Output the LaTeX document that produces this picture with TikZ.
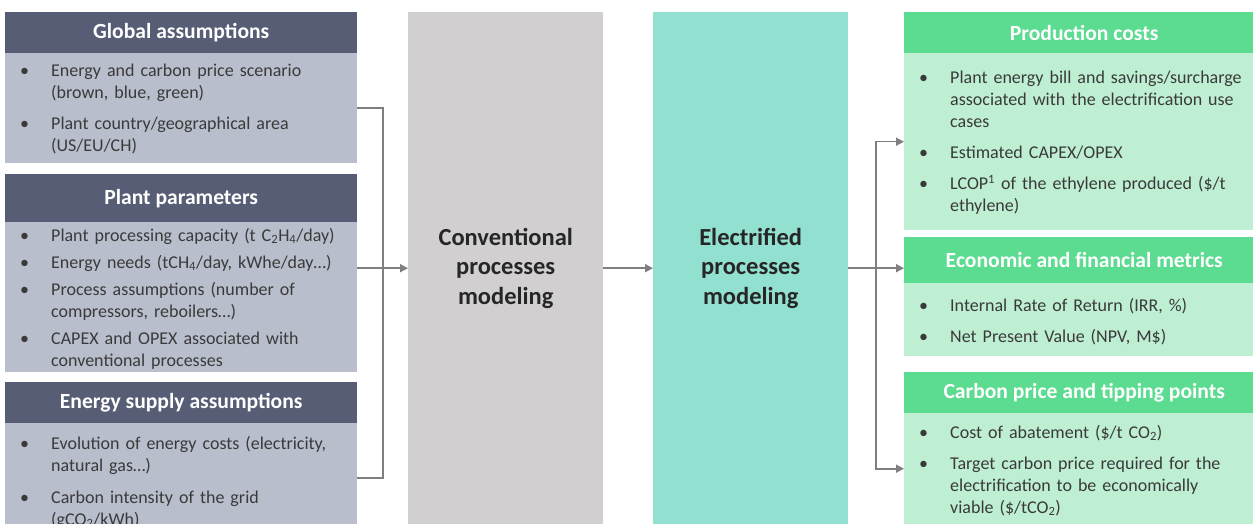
\documentclass[tikz,border=0pt]{standalone}
\usepackage{fontspec}
\setmainfont{Carlito}
\usetikzlibrary{arrows.meta}

\definecolor{slate}{HTML}{565D75}
\definecolor{slatelight}{HTML}{B9BECC}
\definecolor{convgray}{HTML}{D1CFD0}
\definecolor{electeal}{HTML}{92E0D0}
\definecolor{mint}{HTML}{5CDC90}
\definecolor{mintlight}{HTML}{BEEFD2}
\definecolor{wire}{HTML}{7F7F7F}
\definecolor{ink}{HTML}{3A3A3A}

% bullet items with hanging indent; \firstbul starts a list, \bul adds the gap above
\newlength\itemgap
\setlength\itemgap{9pt}
\newcommand{\firstbul}[1]{\hangindent=46pt\hangafter=1\noindent\hbox to 46pt{\hskip15pt\textbullet\hfil}#1\par}
\newcommand{\bul}[1]{\vskip\itemgap\firstbul{#1}}

\tikzset{
  hdr/.style={anchor=north west, inner sep=0pt, text=white,
    font=\fontsize{21.6}{24}\selectfont\bfseries},
  hdrL/.style={hdr, fill=slate, minimum width=352pt},
  hdrR/.style={hdr, fill=mint, minimum width=360pt},
  bodyL/.style={anchor=north west, inner sep=0pt, fill=slatelight, minimum width=352pt},
  bodyR/.style={anchor=north west, inner sep=0pt, fill=mintlight, minimum width=360pt},
  items/.style={anchor=base west, inner sep=0pt, text width=380pt, align=left, text=ink,
    font=\fontsize{18}{22}\selectfont},
  tight/.style={execute at begin node={\setlength\itemgap{5pt}}},
  loose/.style={execute at begin node={\setlength\itemgap{10pt}}},
  stage/.style={anchor=north west, inner sep=0pt, minimum width=195pt, minimum height=512pt,
    align=center, text=black!85, font=\fontsize{24.5}{29.5}\selectfont\bfseries},
  conn/.style={draw=wire, line width=1.6pt},
  tip/.style={-{Triangle[length=8pt,width=8pt]}}
}

\begin{document}
\begin{tikzpicture}[x=1pt,y=-1pt]
\useasboundingbox (0,0) rectangle (1253,524);
\clip (0,0) rectangle (1253,524);

% inputs
\node[hdrL, minimum height=41pt] (glob) at (5,12) {Global assumptions};
\node[bodyL, minimum height=110pt] (globB) at (5,53) {};
\node[items] (globT) at (5,77) {\firstbul{Energy and carbon price scenario\newline (brown, blue, green)}\bul{Plant country/geographical area\newline (US/EU/CH)}};

\node[hdrL, minimum height=48pt] (plant) at (5,174) {Plant parameters};
\node[bodyL, minimum height=150pt] (plantB) at (5,222) {};
\node[items, tight] (plantT) at (5,241) {\firstbul{Plant processing capacity (t C\textsubscript{2}H\textsubscript{4}/day)}\bul{Energy needs (tCH\textsubscript{4}/day, kWhe/day…)}\bul{Process assumptions (number of\newline compressors, reboilers…)}\bul{CAPEX and OPEX associated with\newline conventional processes}};

\node[hdrL, minimum height=41pt] (ener) at (5,382) {Energy supply assumptions};
\node[bodyL, minimum height=110pt] (enerB) at (5,423) {};
\node[items, loose] (enerT) at (5,449) {\firstbul{Evolution of energy costs (electricity,\newline natural gas…)}\bul{Carbon intensity of the grid\newline (gCO\textsubscript{2}/kWh)}};

% modeling stages
\node[stage, fill=convgray] (conv) at (408,12) {Conventional\\processes\\modeling};
\node[stage, fill=electeal] (elec) at (653,12) {Electrified\\processes\\modeling};

% outputs
\node[hdrR, minimum height=41pt] (prod) at (904,12) {Production costs};
\node[bodyR, minimum height=177pt] (prodB) at (904,53) {};
\node[items] (prodT) at (904,84) {\firstbul{Plant energy bill and savings/surcharge\newline associated with the electrification use\newline cases}\bul{Estimated CAPEX/OPEX}\bul{LCOP\textsuperscript{1} of the ethylene produced (\$/t\newline ethylene)}};

\node[hdrR, minimum height=46pt] (eco) at (904,237) {Economic and financial metrics};
\node[bodyR, minimum height=73pt] (ecoB) at (904,283) {};
\node[items] (ecoT) at (904,311) {\firstbul{Internal Rate of Return (IRR, \%)}\bul{Net Present Value (NPV, M\$)}};

\node[hdrR, minimum height=41pt] (carb) at (904,372) {Carbon price and tipping points};
\node[bodyR, minimum height=111pt] (carbB) at (904,413) {};
\node[items] (carbT) at (904,438) {\firstbul{Cost of abatement (\$/t CO\textsubscript{2})}\bul{Target carbon price required for the\newline electrification to be economically\newline viable (\$/tCO\textsubscript{2})}};

% connectors
\coordinate (join) at (383,268);
\coordinate (split) at (876,268);
\draw[conn] (globB.east) -| (join);
\draw[conn] (enerB.east |- 0,478) -| (join);
\draw[conn, tip] (plantB.east |- conv.west) -- (conv.west);
\draw[conn, tip] (conv.east) -- (elec.west);
\draw[conn, tip] (elec.east) -- (elec.east -| eco.west);
\draw[conn, tip] (split) |- (prodB.west);
\draw[conn, tip] (split) |- (carbB.west);
\end{tikzpicture}
\end{document}
